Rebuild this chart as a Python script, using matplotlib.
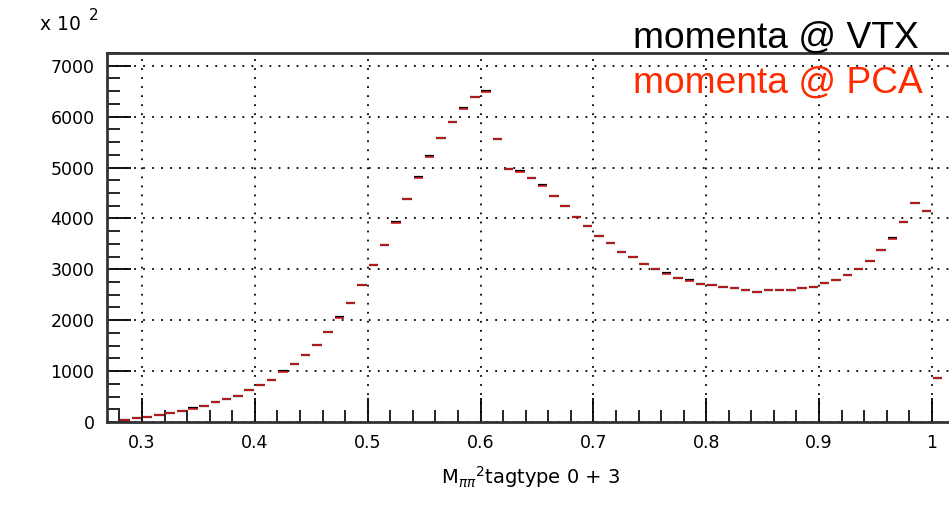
import numpy as np
import matplotlib
matplotlib.use("Agg")
import matplotlib.pyplot as plt
from matplotlib.ticker import MultipleLocator, FuncFormatter

# bin low edges (width 0.01) and contents
bin_lo = np.round(np.arange(0.28, 1.005, 0.01), 2)
pca = [40, 72, 105, 137, 183, 223, 262, 314, 386, 452,
       517, 620, 730, 825, 976, 1133, 1310, 1513, 1762, 2037,
       2344, 2685, 3075, 3484, 3903, 4381, 4800, 5213, 5573, 5888,
       6143, 6379, 6490, 5554, 4965, 4906, 4788, 4630, 4446, 4237,
       4034, 3857, 3650, 3510, 3340, 3235, 3104, 3000, 2908, 2823,
       2770, 2717, 2685, 2652, 2626, 2593, 2554, 2593, 2593, 2595,
       2626, 2659, 2724, 2796, 2894, 3000, 3169, 3373, 3601, 3923,
       4308, 4139, 864]
vtx = [40, 72, 105, 137, 183, 223, 280, 314, 386, 452,
       517, 620, 730, 825, 995, 1133, 1310, 1513, 1762, 2055,
       2344, 2685, 3075, 3484, 3925, 4381, 4822, 5235, 5573, 5888,
       6165, 6379, 6512, 5554, 4965, 4928, 4788, 4652, 4446, 4237,
       4034, 3857, 3650, 3510, 3340, 3235, 3104, 3000, 2928, 2823,
       2790, 2717, 2685, 2652, 2626, 2593, 2554, 2593, 2593, 2595,
       2626, 2659, 2724, 2796, 2894, 3000, 3169, 3373, 3622, 3923,
       4308, 4139, 864]
bw = 0.01

fig = plt.figure(figsize=(9.49, 5.07), dpi=100)
W, H = 949, 507
ax = fig.add_axes([107 / W, (H - 422) / H, (959 - 107) / W, (422 - 53) / H])

# small gap at both ends of each dash
ax.hlines(vtx, bin_lo + 0.0008, bin_lo + bw - 0.0008, colors="black", lw=1.6, zorder=3)
ax.hlines(pca, bin_lo + 0.0008, bin_lo + bw - 0.0008, colors="#d42020", lw=1.2, zorder=4)

ax.set_xlim(0.269, 1.024)
ax.set_ylim(0, 7250)

ax.xaxis.set_major_locator(MultipleLocator(0.1))
ax.xaxis.set_minor_locator(MultipleLocator(0.02))
ax.yaxis.set_major_locator(MultipleLocator(1000))
ax.yaxis.set_minor_locator(MultipleLocator(250))
ax.xaxis.set_major_formatter(FuncFormatter(lambda v, p: "%g" % round(v, 2)))

ax.tick_params(which="major", direction="in", length=17, width=1.3, labelsize=12.5,
               pad=9, top=False, right=False)
ax.tick_params(which="minor", direction="in", length=9, width=1.2, top=False, right=False)
ax.grid(True, which="major", color="black", linestyle=(0, (1, 4)), lw=1.3)

for s in ["left", "bottom", "top"]:
    ax.spines[s].set_linewidth(2)
    ax.spines[s].set_color("#333333")
ax.spines["right"].set_visible(False)

fig.text(40 / W, 1 - 25 / H, "x 10", fontsize=13.5, ha="left", va="center")
fig.text(89 / W, 1 - 15 / H, "2", fontsize=11, ha="left", va="center")

fig.text(531 / W, 1 - 477 / H, r"M$_{\pi\pi}$$^2$tagtype 0 + 3", fontsize=14,
         ha="center", va="center")

fig.text(633 / W, 1 - 48 / H, "momenta @ VTX", fontsize=26.7, color="black",
         family="Liberation Sans", ha="left", va="baseline")
fig.text(633 / W, 1 - 93 / H, "momenta @ PCA", fontsize=26.7, color="#ff2a00",
         family="Liberation Sans", ha="left", va="baseline")

fig.savefig("out.png", dpi=100)
